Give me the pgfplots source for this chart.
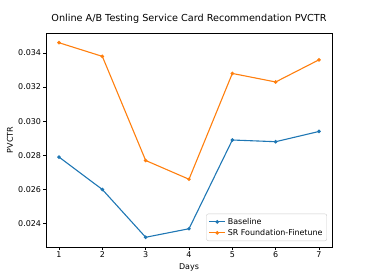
\documentclass[border=0pt]{standalone}
\usepackage{fontspec}
\setmainfont{DejaVu Sans}
\usepackage{pgfplots}
\pgfplotsset{compat=1.18}
\definecolor{tabblue}{HTML}{1F77B4}
\definecolor{taborange}{HTML}{FF7F0E}
\begin{document}
\begin{tikzpicture}[x=1bp,y=1bp]
\useasboundingbox (0,0) rectangle (368,277);
\begin{axis}[
  at={(46bp,30bp)}, anchor=south west,
  scale only axis, width=286bp, height=214bp,
  xmin=0.7, xmax=7.3, ymin=0.02263, ymax=0.03517,
  xtick={1,2,3,4,5,6,7},
  ytick={0.024,0.026,0.028,0.030,0.032,0.034},
  scaled y ticks=false,
  yticklabel style={/pgf/number format/fixed, /pgf/number format/fixed zerofill, /pgf/number format/precision=3},
  /pgf/number format/assume math mode=true,
  tick label style={font=\fontsize{8}{9.6}\selectfont, text=black, inner sep=2bp},
  tick align=outside, tick pos=left,
  major tick length=2.8bp,
  axis line style={line width=0.5bp},
  every tick/.style={line width=0.5bp, black},
  title={Online A/B Testing Service Card Recommendation PVCTR},
  title style={at={(0.5,1)}, anchor=base, yshift=6bp, font=\fontsize{9.7}{11.5}\selectfont},
  xlabel={Days}, ylabel={PVCTR},
  every axis x label/.style={at={(axis description cs:0.5,-0.0935)}, anchor=center, font=\fontsize{8}{9.6}\selectfont},
  every axis y label/.style={at={(axis description cs:-0.126,0.5)}, rotate=90, anchor=center, font=\fontsize{8}{9.6}\selectfont},
  legend style={at={(0.9825,0.028)}, anchor=south east, draw=black!20, rounded corners=2bp,
    font=\fontsize{8}{9.6}\selectfont, row sep=-0.5bp, inner sep=2.2bp},
  legend cell align=left,
  legend image code/.code={\draw[#1] (0bp,0bp) -- (8bp,0bp); \draw[#1,mark repeat=2,mark phase=2] plot coordinates {(0bp,0bp) (8bp,0bp) (16bp,0bp)}; \draw[#1] (8bp,0bp) -- (16bp,0bp);},
]
\addplot[tabblue, line width=1.1bp, mark=*, mark size=1.2bp] coordinates {
  (1,0.0279) (2,0.0260) (3,0.0232) (4,0.0237) (5,0.0289) (6,0.0288) (7,0.0294)};
\addlegendentry{Baseline}
\addplot[taborange, line width=1.1bp, mark=*, mark size=1.2bp] coordinates {
  (1,0.0346) (2,0.0338) (3,0.0277) (4,0.0266) (5,0.0328) (6,0.0323) (7,0.0336)};
\addlegendentry{SR Foundation-Finetune}
\end{axis}
\end{tikzpicture}
\end{document}
